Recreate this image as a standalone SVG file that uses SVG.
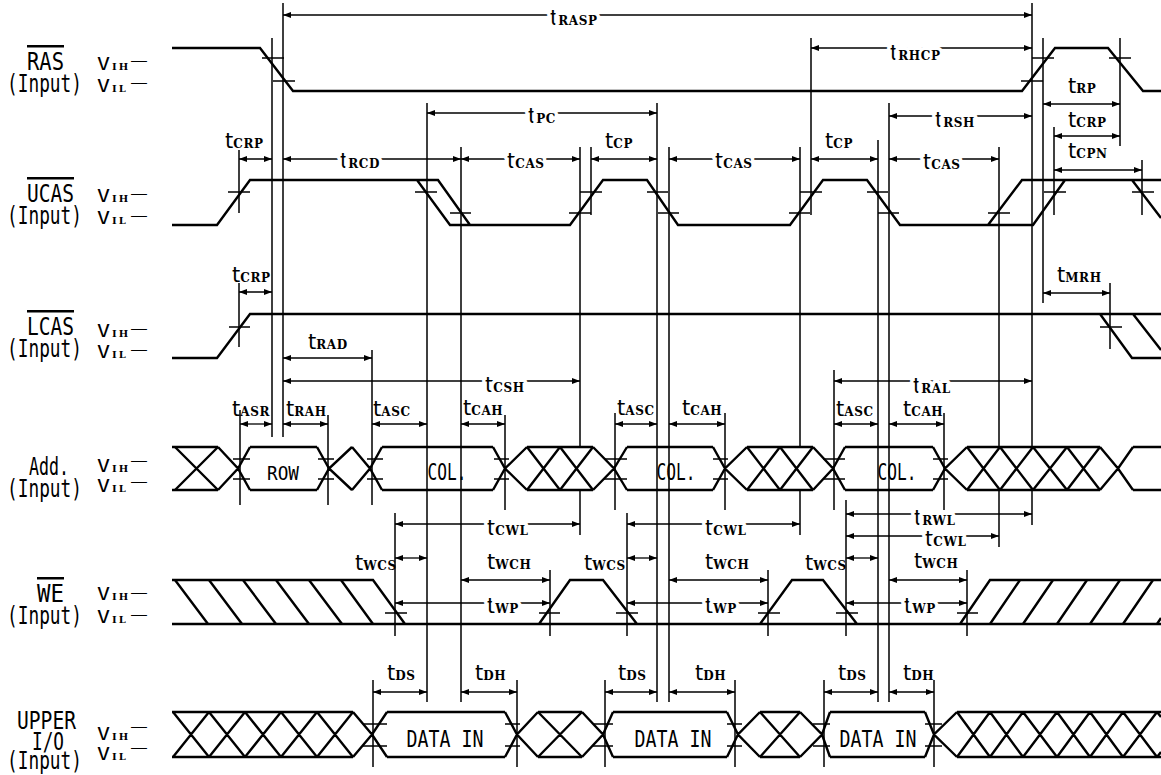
<svg xmlns="http://www.w3.org/2000/svg" width="1161" height="775" viewBox="0 0 1161 775">
<defs>
<marker id="ah" markerUnits="userSpaceOnUse" markerWidth="8" markerHeight="6" refX="8" refY="3" orient="auto-start-reverse"><path d="M0,0 L8,3 L0,6 z" fill="#000"/></marker>
<style>
.sig{stroke:#000;stroke-width:2.4;fill:none;stroke-linejoin:miter}
.ref{stroke:#000;stroke-width:1.5;fill:none}
.tk{stroke:#000;stroke-width:1.5;fill:none}
.dim{stroke:#000;stroke-width:1.3;marker-start:url(#ah);marker-end:url(#ah)}
.nm{font-family:"DejaVu Sans Mono",monospace;font-size:25px;fill:#000}
.ov{text-decoration:overline}
.v{font-family:"DejaVu Sans Mono",monospace;font-size:18px;fill:#000}
.vs{font-family:"DejaVu Serif",serif;font-weight:bold;font-size:10px;letter-spacing:2px}
.dash{font-family:"DejaVu Sans Mono",monospace;font-size:14px;fill:#000}
.bx{font-family:"DejaVu Sans Mono",monospace;font-size:23px;text-anchor:middle;fill:#000}
.t{font-family:"DejaVu Sans",sans-serif;font-size:21px;fill:#000}
.s{font-family:"DejaVu Serif",serif;font-weight:bold;font-size:12px;letter-spacing:0.6px}
.on{stroke:#fff;stroke-width:7px;paint-order:stroke fill;stroke-linejoin:round}
</style>
</defs>
<rect width="1161" height="775" fill="#fff"/>

<g id="signals">
<g id="sig-ras">
<text class="nm ov" x="27" y="70" textLength="37" lengthAdjust="spacingAndGlyphs">RAS</text>
<text class="nm" x="7" y="92" textLength="75" lengthAdjust="spacingAndGlyphs">(Input)</text>
<text class="v" x="97" y="70" textLength="13" lengthAdjust="spacingAndGlyphs">V</text>
<text class="v" x="112" y="70"><tspan class="vs">IH</tspan></text>
<text class="dash" x="131" y="65" textLength="16" lengthAdjust="spacingAndGlyphs">—</text>
<text class="v" x="97" y="92" textLength="13" lengthAdjust="spacingAndGlyphs">V</text>
<text class="v" x="112" y="92"><tspan class="vs">IL</tspan></text>
<text class="dash" x="131" y="87" textLength="16" lengthAdjust="spacingAndGlyphs">—</text>
<path class="sig" d="M172,48 H260 L293,91 H1022 L1055,48 H1108 L1143,91 H1161"/>
<path class="tk" d="M262,58 H284 M273,81 H295 M1032,58 H1054 M1021,81 H1043 M1109,58 H1131"/>
</g>
<g id="sig-ucas">
<text class="nm ov" x="27" y="202" textLength="47" lengthAdjust="spacingAndGlyphs">UCAS</text>
<text class="nm" x="7" y="224" textLength="75" lengthAdjust="spacingAndGlyphs">(Input)</text>
<text class="v" x="97" y="202" textLength="13" lengthAdjust="spacingAndGlyphs">V</text>
<text class="v" x="112" y="202"><tspan class="vs">IH</tspan></text>
<text class="dash" x="131" y="198" textLength="16" lengthAdjust="spacingAndGlyphs">—</text>
<text class="v" x="97" y="224" textLength="13" lengthAdjust="spacingAndGlyphs">V</text>
<text class="v" x="112" y="224"><tspan class="vs">IL</tspan></text>
<text class="dash" x="131" y="220" textLength="16" lengthAdjust="spacingAndGlyphs">—</text>
<path class="sig" d="M172,225 H217 L250,180 H438 L470,225 H570 L603,180 H647 L678,225 H790 L823,180 H867 L900,225 H1033 L1065,180 H1161 M417,180 L450,225 H470 M988,225 L1022,180 H1065 M1132,180 L1161,218"/>
<path class="tk" d="M228,192 H250 M415,192 H437 M450,213 H471 M569,213 H591 M580,192 H602 M647,192 H668 M658,213 H679 M789,213 H810 M800,192 H822 M867,192 H888 M878,213 H899 M988,213 H1010 M1044,192 H1066 M1132,192 H1154"/>
</g>
<g id="sig-lcas">
<text class="nm ov" x="27" y="335" textLength="47" lengthAdjust="spacingAndGlyphs">LCAS</text>
<text class="nm" x="7" y="357" textLength="75" lengthAdjust="spacingAndGlyphs">(Input)</text>
<text class="v" x="97" y="337" textLength="13" lengthAdjust="spacingAndGlyphs">V</text>
<text class="v" x="112" y="337"><tspan class="vs">IH</tspan></text>
<text class="dash" x="131" y="333" textLength="16" lengthAdjust="spacingAndGlyphs">—</text>
<text class="v" x="97" y="358" textLength="13" lengthAdjust="spacingAndGlyphs">V</text>
<text class="v" x="112" y="358"><tspan class="vs">IL</tspan></text>
<text class="dash" x="131" y="354" textLength="16" lengthAdjust="spacingAndGlyphs">—</text>
<path class="sig" d="M172,358 H217 L250,314 H1161 M1100,314 L1132,358 H1161 M1133,314 L1161,350"/>
<path class="tk" d="M229,327 H250 M1100,327 H1122"/>
</g>
<g id="sig-add">
<text class="nm" x="29" y="475" textLength="40" lengthAdjust="spacingAndGlyphs">Add.</text>
<text class="nm" x="7" y="497" textLength="75" lengthAdjust="spacingAndGlyphs">(Input)</text>
<text class="v" x="97" y="472" textLength="13" lengthAdjust="spacingAndGlyphs">V</text>
<text class="v" x="112" y="472"><tspan class="vs">IH</tspan></text>
<text class="dash" x="131" y="465" textLength="16" lengthAdjust="spacingAndGlyphs">—</text>
<text class="v" x="97" y="492" textLength="13" lengthAdjust="spacingAndGlyphs">V</text>
<text class="v" x="112" y="492"><tspan class="vs">IL</tspan></text>
<text class="dash" x="131" y="486" textLength="16" lengthAdjust="spacingAndGlyphs">—</text>
<path class="sig" d="M172,447 H218 M250,447 H317 M382,447 H493 M527,447 H593 M627,447 H713 M747,447 H813 M845,447 H933 M967,447 H1100 M1133,447 H1161 M172,490 H218 M250,490 H317 M382,490 H493 M527,490 H593 M627,490 H713 M747,490 H813 M845,490 H933 M967,490 H1100 M1133,490 H1161"/>
<path class="sig" d="M175,447 L218,490 M175,490 L218,447 M527,447 L560,490 M527,490 L560,447 M560,447 L593,490 M560,490 L593,447 M747,447 L780,490 M747,490 L780,447 M780,447 L813,490 M780,490 L813,447 M967,447 L1000,490 M967,490 L1000,447 M1000,447 L1033,490 M1000,490 L1033,447 M1033,447 L1067,490 M1033,490 L1067,447 M1067,447 L1100,490 M1067,490 L1100,447"/>
<path class="sig" d="M218,447 L238,468.5 L250,490 M218,490 L238,468.5 L250,447 M317,447 L329,468.5 L352,490 M317,490 L329,468.5 L352,447 M352,447 L370,468.5 L382,490 M352,490 L370,468.5 L382,447 M493,447 L505,468.5 L527,490 M493,490 L505,468.5 L527,447 M593,447 L614,468.5 L627,490 M593,490 L614,468.5 L627,447 M713,447 L725,468.5 L747,490 M713,490 L725,468.5 L747,447 M813,447 L833,468.5 L845,490 M813,490 L833,468.5 L845,447 M933,447 L945,468.5 L967,490 M933,490 L945,468.5 L967,447 M1100,447 L1118,468.5 L1133,490 M1100,490 L1118,468.5 L1133,447"/>
<path class="tk" d="M233,459 H250 M233,479 H250 M318,459 H334 M318,479 H334 M367,459 H383 M367,479 H383 M494,459 H509 M494,479 H509 M604,459 H627 M604,479 H627 M713,459 H728 M713,479 H728 M823,459 H845 M823,479 H845 M933,459 H948 M933,479 H948"/>
<text class="bx" x="283" y="480" style="font-size:19px" textLength="32" lengthAdjust="spacingAndGlyphs">ROW</text>
<text class="bx" x="447" y="480" textLength="39" lengthAdjust="spacingAndGlyphs">COL.</text>
<text class="bx" x="676" y="480" textLength="39" lengthAdjust="spacingAndGlyphs">COL.</text>
<text class="bx" x="897" y="480" textLength="39" lengthAdjust="spacingAndGlyphs">COL.</text>
</g>
<g id="sig-we">
<text class="nm ov" x="37" y="602" textLength="27" lengthAdjust="spacingAndGlyphs">WE</text>
<text class="nm" x="7" y="624" textLength="75" lengthAdjust="spacingAndGlyphs">(Input)</text>
<text class="v" x="97" y="600" textLength="13" lengthAdjust="spacingAndGlyphs">V</text>
<text class="v" x="112" y="600"><tspan class="vs">IH</tspan></text>
<text class="dash" x="131" y="597" textLength="16" lengthAdjust="spacingAndGlyphs">—</text>
<text class="v" x="97" y="623" textLength="13" lengthAdjust="spacingAndGlyphs">V</text>
<text class="v" x="112" y="623"><tspan class="vs">IL</tspan></text>
<text class="dash" x="131" y="619" textLength="16" lengthAdjust="spacingAndGlyphs">—</text>
<path class="sig" d="M172,624 H1161 M172,580 H373 L405,624 M539,624 L570,580 H603 L637,624 M760,624 L792,580 H823 L857,624 M960,624 L990,580 H1161"/>
<path class="sig" d="M175,580 L208,624 M209,580 L242,624 M243,580 L276,624 M276,580 L309,624 M309,580 L342,624 M341,580 L373,624 M990,624 L1020,580 M1023,624 L1053,580 M1057,624 L1087,580 M1090,624 L1120,580 M1123,624 L1153,580 M1157,624 L1161,618"/>
<path class="tk" d="M385,613 H407 M539,613 H560 M616,613 H638 M758,613 H780 M836,613 H858 M957,613 H978"/>
</g>
<g id="sig-io">
<text class="nm" x="17" y="729" textLength="59" lengthAdjust="spacingAndGlyphs">UPPER</text>
<text class="nm" x="32" y="750" textLength="32" lengthAdjust="spacingAndGlyphs">I/O</text>
<text class="nm" x="7" y="769" textLength="75" lengthAdjust="spacingAndGlyphs">(Input)</text>
<text class="v" x="97" y="740" textLength="13" lengthAdjust="spacingAndGlyphs">V</text>
<text class="v" x="112" y="740"><tspan class="vs">IH</tspan></text>
<text class="dash" x="131" y="731" textLength="16" lengthAdjust="spacingAndGlyphs">—</text>
<text class="v" x="97" y="760" textLength="13" lengthAdjust="spacingAndGlyphs">V</text>
<text class="v" x="112" y="760"><tspan class="vs">IL</tspan></text>
<text class="dash" x="131" y="752" textLength="16" lengthAdjust="spacingAndGlyphs">—</text>
<path class="sig" d="M172,712 H353 M387,712 H505 M538,712 H582 M613,712 H727 M760,712 H800 M830,712 H925 M957,712 H1161 M172,757 H353 M387,757 H505 M538,757 H582 M613,757 H727 M760,757 H800 M830,757 H925 M957,757 H1161"/>
<path class="sig" d="M173,712 L209,757 M173,757 L209,712 M209,712 L245,757 M209,757 L245,712 M245,712 L281,757 M245,757 L281,712 M281,712 L317,757 M281,757 L317,712 M317,712 L353,757 M317,757 L353,712 M538,712 L582,757 M538,757 L582,712 M760,712 L800,757 M760,757 L800,712 M957,712 L990,757 M957,757 L990,712 M990,712 L1023,757 M990,757 L1023,712 M1023,712 L1057,757 M1023,757 L1057,712 M1057,712 L1090,757 M1057,757 L1090,712 M1090,712 L1123,757 M1090,757 L1123,712 M1123,712 L1157,757 M1123,757 L1157,712 M1157,712 L1161,717 M1157,757 L1161,752"/>
<path class="sig" d="M353,712 L372,734.5 L387,757 M353,757 L372,734.5 L387,712 M505,712 L517,734.5 L538,757 M505,757 L517,734.5 L538,712 M582,712 L603,734.5 L613,757 M582,757 L603,734.5 L613,712 M727,712 L738,734.5 L760,757 M727,757 L738,734.5 L760,712 M800,712 L822,734.5 L830,757 M800,757 L822,734.5 L830,712 M925,712 L934,734.5 L957,757 M925,757 L934,734.5 L957,712"/>
<path class="tk" d="M363,724 H387 M363,746 H387 M505,724 H520 M505,746 H520 M593,724 H613 M593,746 H613 M727,724 H742 M727,746 H742 M813,724 H830 M813,746 H830 M925,724 H942 M925,746 H942"/>
<text class="bx" x="445" y="747" textLength="77" lengthAdjust="spacingAndGlyphs">DATA IN</text>
<text class="bx" x="673" y="747" textLength="77" lengthAdjust="spacingAndGlyphs">DATA IN</text>
<text class="bx" x="878" y="747" textLength="77" lengthAdjust="spacingAndGlyphs">DATA IN</text>
</g>
</g>

<g id="connectors">
<path class="ref" d="M239,150 V213 M239,283 V347 M272,38 V437 M283,3 V437 M240,410 V505 M328,415 V505 M372,350 V505 M373,680 V767 M395,513 V636 M427,103 V702 M461,147 V702 M505,415 V510 M517,680 V767 M550,570 V636 M580,147 V447 M580,490 V535 M591,147 V215 M605,680 V767 M615,413 V510 M627,513 V636 M657,103 V702 M669,147 V702 M725,413 V510 M735,680 V767 M768,570 V636 M800,147 V447 M800,490 V535 M811,38 V215 M824,680 V767 M834,370 V510 M846,500 V636 M878,140 V702 M889,103 V702 M934,680 V767 M944,413 V510 M967,570 V636 M999,147 V447 M999,490 V547 M1032,3 V447 M1032,490 V525 M1043,38 V303 M1054,127 V215 M1110,283 V349 M1120,38 V146 M1142,160 V215"/>
<line class="dim" x1="283" y1="15" x2="1032" y2="15"/>
<line class="dim" x1="811" y1="48" x2="1032" y2="48"/>
<line class="dim" x1="427" y1="113" x2="657" y2="113"/>
<line class="dim" x1="889" y1="116" x2="1032" y2="116"/>
<line class="dim" x1="1043" y1="104" x2="1120" y2="104"/>
<line class="dim" x1="1054" y1="136" x2="1120" y2="136"/>
<line class="dim" x1="1054" y1="170" x2="1142" y2="170"/>
<line class="dim" x1="239" y1="159" x2="272" y2="159"/>
<line class="dim" x1="283" y1="159" x2="461" y2="159"/>
<line class="dim" x1="461" y1="159" x2="580" y2="159"/>
<line class="dim" x1="591" y1="159" x2="657" y2="159"/>
<line class="dim" x1="669" y1="159" x2="800" y2="159"/>
<line class="dim" x1="811" y1="159" x2="878" y2="159"/>
<line class="dim" x1="889" y1="159" x2="999" y2="159"/>
<line class="dim" x1="239" y1="292" x2="272" y2="292"/>
<line class="dim" x1="1043" y1="293" x2="1110" y2="293"/>
<line class="dim" x1="283" y1="358" x2="372" y2="358"/>
<line class="dim" x1="283" y1="381" x2="580" y2="381"/>
<line class="dim" x1="834" y1="381" x2="1032" y2="381"/>
<line class="dim" x1="240" y1="424" x2="272" y2="424"/>
<line class="dim" x1="283" y1="424" x2="328" y2="424"/>
<line class="dim" x1="372" y1="424" x2="427" y2="424"/>
<line class="dim" x1="461" y1="424" x2="505" y2="424"/>
<line class="dim" x1="615" y1="424" x2="657" y2="424"/>
<line class="dim" x1="669" y1="424" x2="725" y2="424"/>
<line class="dim" x1="834" y1="424" x2="878" y2="424"/>
<line class="dim" x1="889" y1="424" x2="944" y2="424"/>
<line class="dim" x1="395" y1="524" x2="580" y2="524"/>
<line class="dim" x1="395" y1="558" x2="427" y2="558"/>
<line class="dim" x1="461" y1="580" x2="550" y2="580"/>
<line class="dim" x1="395" y1="603" x2="550" y2="603"/>
<line class="dim" x1="627" y1="524" x2="800" y2="524"/>
<line class="dim" x1="627" y1="558" x2="657" y2="558"/>
<line class="dim" x1="669" y1="580" x2="768" y2="580"/>
<line class="dim" x1="627" y1="603" x2="768" y2="603"/>
<line class="dim" x1="846" y1="514" x2="1032" y2="514"/>
<line class="dim" x1="846" y1="536" x2="999" y2="536"/>
<line class="dim" x1="846" y1="558" x2="878" y2="558"/>
<line class="dim" x1="889" y1="580" x2="967" y2="580"/>
<line class="dim" x1="846" y1="603" x2="967" y2="603"/>
<line class="dim" x1="373" y1="692" x2="427" y2="692"/>
<line class="dim" x1="461" y1="692" x2="517" y2="692"/>
<line class="dim" x1="605" y1="692" x2="657" y2="692"/>
<line class="dim" x1="669" y1="692" x2="735" y2="692"/>
<line class="dim" x1="824" y1="692" x2="878" y2="692"/>
<line class="dim" x1="889" y1="692" x2="934" y2="692"/>
</g>

<g id="timing-labels">
<text class="t on" x="550" y="25">t<tspan class="s">RASP</tspan></text>
<text class="t on" x="890" y="60">t<tspan class="s">RHCP</tspan></text>
<text class="t on" x="528" y="123">t<tspan class="s">PC</tspan></text>
<text class="t" x="605" y="148">t<tspan class="s">CP</tspan></text>
<text class="t on" x="507" y="168">t<tspan class="s">CAS</tspan></text>
<text class="t on" x="715" y="168">t<tspan class="s">CAS</tspan></text>
<text class="t on" x="340" y="168">t<tspan class="s">RCD</tspan></text>
<text class="t" x="225" y="148">t<tspan class="s">CRP</tspan></text>
<text class="t on" x="935" y="127">t<tspan class="s">RSH</tspan></text>
<text class="t" x="825" y="148">t<tspan class="s">CP</tspan></text>
<text class="t on" x="923" y="169">t<tspan class="s">CAS</tspan></text>
<text class="t" x="1068" y="93">t<tspan class="s">RP</tspan></text>
<text class="t" x="1068" y="127">t<tspan class="s">CRP</tspan></text>
<text class="t" x="1068" y="158">t<tspan class="s">CPN</tspan></text>
<text class="t" x="232" y="282">t<tspan class="s">CRP</tspan></text>
<text class="t" x="1057" y="282">t<tspan class="s">MRH</tspan></text>
<text class="t" x="308" y="349">t<tspan class="s">RAD</tspan></text>
<text class="t on" x="485" y="392">t<tspan class="s">CSH</tspan></text>
<text class="t on" x="913" y="393">t<tspan class="s">RAL</tspan></text>
<text class="t" x="232" y="416">t<tspan class="s">ASR</tspan></text>
<text class="t" x="286" y="416">t<tspan class="s">RAH</tspan></text>
<text class="t" x="373" y="416">t<tspan class="s">ASC</tspan></text>
<text class="t" x="463" y="415">t<tspan class="s">CAH</tspan></text>
<text class="t" x="617" y="415">t<tspan class="s">ASC</tspan></text>
<text class="t" x="682" y="415">t<tspan class="s">CAH</tspan></text>
<text class="t" x="836" y="416">t<tspan class="s">ASC</tspan></text>
<text class="t" x="903" y="416">t<tspan class="s">CAH</tspan></text>
<text class="t on" x="487" y="535">t<tspan class="s">CWL</tspan></text>
<text class="t" x="355" y="570">t<tspan class="s">WCS</tspan></text>
<text class="t" x="487" y="569">t<tspan class="s">WCH</tspan></text>
<text class="t on" x="487" y="613">t<tspan class="s">WP</tspan></text>
<text class="t" x="584" y="570">t<tspan class="s">WCS</tspan></text>
<text class="t on" x="705" y="535">t<tspan class="s">CWL</tspan></text>
<text class="t" x="705" y="569">t<tspan class="s">WCH</tspan></text>
<text class="t on" x="705" y="613">t<tspan class="s">WP</tspan></text>
<text class="t on" x="914" y="525">t<tspan class="s">RWL</tspan></text>
<text class="t on" x="925" y="546">t<tspan class="s">CWL</tspan></text>
<text class="t" x="805" y="570">t<tspan class="s">WCS</tspan></text>
<text class="t" x="914" y="568">t<tspan class="s">WCH</tspan></text>
<text class="t on" x="904" y="613">t<tspan class="s">WP</tspan></text>
<text class="t" x="387" y="680">t<tspan class="s">DS</tspan></text>
<text class="t" x="475" y="680">t<tspan class="s">DH</tspan></text>
<text class="t" x="618" y="680">t<tspan class="s">DS</tspan></text>
<text class="t" x="695" y="680">t<tspan class="s">DH</tspan></text>
<text class="t" x="838" y="680">t<tspan class="s">DS</tspan></text>
<text class="t" x="903" y="680">t<tspan class="s">DH</tspan></text>
</g>
</svg>
